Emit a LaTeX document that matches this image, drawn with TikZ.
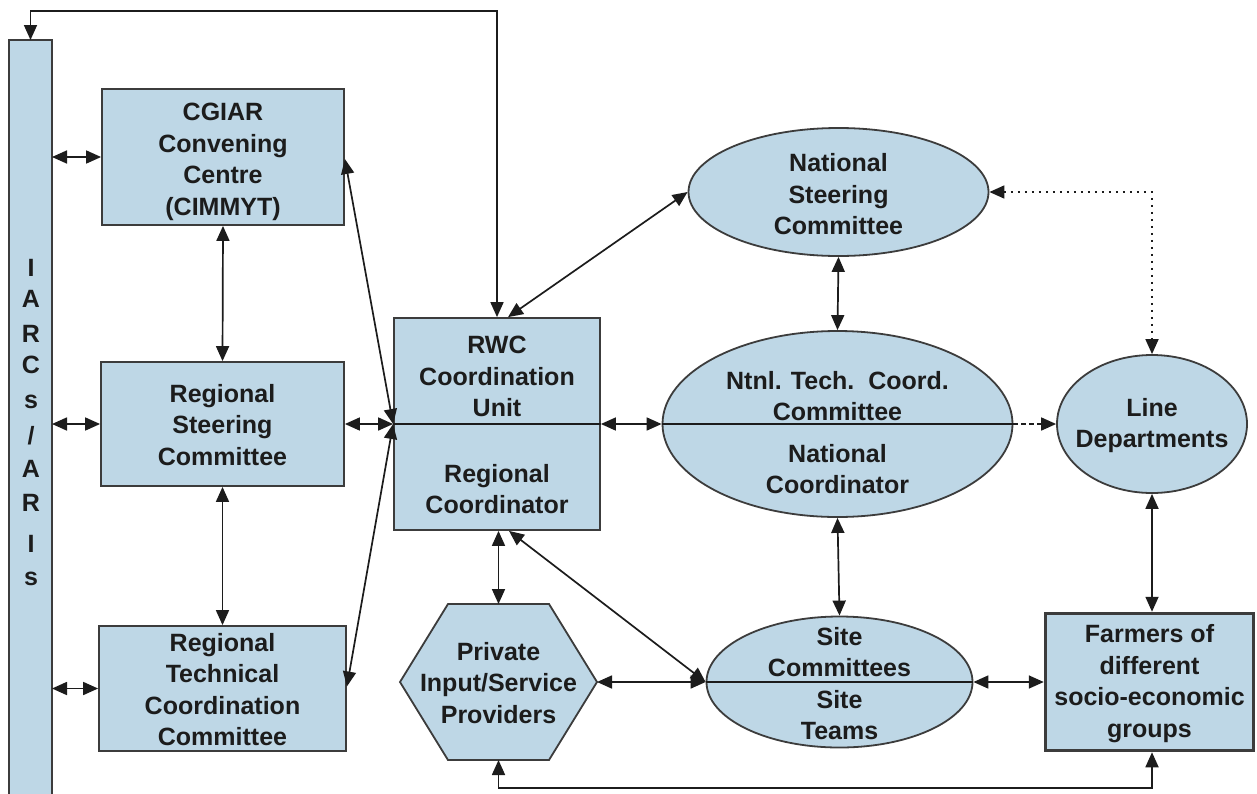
\documentclass[tikz,border=0pt]{standalone}
\usepackage{fontspec}
\setmainfont{Liberation Sans}
\usetikzlibrary{arrows.meta,shapes.geometric}
\definecolor{boxfill}{RGB}{190,215,230}
\definecolor{boxline}{RGB}{60,60,60}
\definecolor{ink}{RGB}{28,28,28}
\newcommand\myslash{/}
\begin{document}
\begin{tikzpicture}[x=1pt,y=-1pt,
  txt/.style={font=\fontsize{25}{31.5}\selectfont\bfseries, text=ink, align=center, inner sep=0pt},
  shp/.style={draw=boxline, fill=boxfill, line width=1.8pt, inner sep=0pt},
  rbox/.style={shp, rectangle},
  ell/.style={shp, ellipse},
  link/.style={draw=ink, line width=1.7pt},
  both/.style={link, {Triangle[length=15pt,width=13pt]}-{Triangle[length=15pt,width=13pt]}},
  one/.style={link, -{Triangle[length=15pt,width=13pt]}}
]
\useasboundingbox (0,0) rectangle (1257,793);
\fill[white] (0,0) rectangle (1257,793);

% left bar
\node[fill=boxfill, draw=none, inner sep=0pt, outer sep=0pt, minimum width=43pt, minimum height=770pt, anchor=north] (bar) at (30.5,40) {};
\draw[boxline, line width=1.8pt] (bar.south west) -- (bar.north west) -- (bar.north east) -- (bar.south east);
\foreach \l/\b [count=\i] in {I/276,A/307,R/342,C/373,s/408,\myslash/444,A/477,R/511,I/552,s/585}
  \node[txt, anchor=base] (bl\i) at (31,\b) {\l};

% left column boxes
\node[rbox, minimum width=242pt, minimum height=136pt] (cgiar) at (223,157) {};
\node[txt] (cgiart) at (223,162) {CGIAR\\Convening\\Centre\\(CIMMYT)};
\node[rbox, minimum width=243pt, minimum height=124pt] (rsc) at (222.5,424) {};
\node[txt] (rsct) at (222.5,425) {Regional\\Steering\\Committee};
\node[rbox, minimum width=247pt, minimum height=125pt] (rtcc) at (222.5,688.5) {};
\node[txt] (rtcct) at (222.5,689.5) {Regional\\Technical\\Coordination\\Committee};

% RWC unit
\node[rbox, minimum width=206pt, minimum height=212pt] (rwc) at (497,424) {};
\node[txt] (rwct) at (497,376.5) {RWC\\Coordination\\Unit};
\node[txt] (rwcb) at (497,489) {Regional\\Coordinator};

% private providers (hexagon)
\node[inner sep=0pt, outer sep=0pt, minimum width=197pt, minimum height=156pt] (priv) at (498.5,682) {};
\filldraw[fill=boxfill, draw=boxline, line width=1.8pt]
  (priv.west) -- ([xshift=-50.5pt]priv.north) -- ([xshift=50.5pt]priv.north) -- (priv.east)
  -- ([xshift=50.5pt]priv.south) -- ([xshift=-50.5pt]priv.south) -- cycle;
\node[txt] (privt) at (498.5,683) {Private\\Input/Service\\Providers};

% national level
\node[ell, minimum width=300pt, minimum height=128pt] (nsc) at (838.5,192) {};
\node[txt] (nsct) at (838.5,194.5) {National\\Steering\\Committee};
\node[ell, minimum width=350pt, minimum height=186pt] (ntcc) at (837.5,424) {};
\node[txt] (ntcct) at (837.5,396) {Ntnl. Tech.\ \ Coord.\\Committee};
\node[txt] (ntccb) at (837.5,469) {National\\Coordinator};
\node[ell, minimum width=190pt, minimum height=138pt] (ld) at (1152,424) {};
\node[txt] (ldt) at (1152,425.5) {Line\\Departments};

% site
\node[ell, minimum width=266pt, minimum height=131pt] (site) at (839.5,682) {};
\node[txt] (sitet) at (839.5,652) {Site\\Committees};
\node[txt] (siteb) at (839.5,715) {Site\\Teams};

% farmers
\node[rbox, line width=3.5pt, minimum width=208pt, minimum height=137pt] (farm) at (1149.5,682) {};
\node[txt] (farmt) at (1149.5,683.5) {Farmers of\\different\\socio-economic\\groups};

% helper coordinates
\coordinate (topy) at (0,11);
\coordinate (boty) at (0,788);

% connectors
\draw[both] (rwc.north) -- (rwc.north |- topy) -- (bar.north |- topy) -- (bar.north);
\draw[both] ([xshift=11pt]rwc.north) -- (nsc.west);
\draw[both] (cgiar.west -| bar.east) -- (cgiar.west);
\draw[both] (rsc.west -| bar.east) -- (rsc.west);
\draw[both] (rtcc.west -| bar.east) -- (rtcc.west);
\draw[both] (cgiar.south) -- (rsc.north);
\draw[both] (rsc.south) -- (rtcc.north);
\draw[both] (rsc.east) -- (rwc.west);
\draw[link] (rwc.west) -- (rwc.east);
\draw[both] (rwc.east) -- (ntcc.west);
\draw[link] (ntcc.west) -- (ntcc.east);
\draw[one, dash pattern=on 5pt off 3pt] (ntcc.east) -- (ld.west);
\draw[both] ([yshift=-2pt]cgiar.east) -- (rwc.west);
\draw[both] ([yshift=2pt]rtcc.east) -- (rwc.west);
\draw[both] (rwc.south -| priv.north) -- (priv.north);
\draw[both] ([xshift=12pt]rwc.south) -- (site.west);
\draw[both] (priv.east) -- (site.west);
\draw[link] (site.west) -- (site.east);
\draw[both] (site.east) -- (farm.west);
\draw[both] (nsc.south) -- (ntcc.north);
\draw[both] (ntcc.south) -- (site.north);
\draw[both, dash pattern=on 2pt off 5pt] (nsc.east) -| (ld.north);
\draw[both] (ld.south) -- (ld.south |- farm.north);
\draw[both] (priv.south) -- (priv.south |- boty) -- (ld.south |- boty) -- (ld.south |- farm.south);
\end{tikzpicture}
\end{document}
